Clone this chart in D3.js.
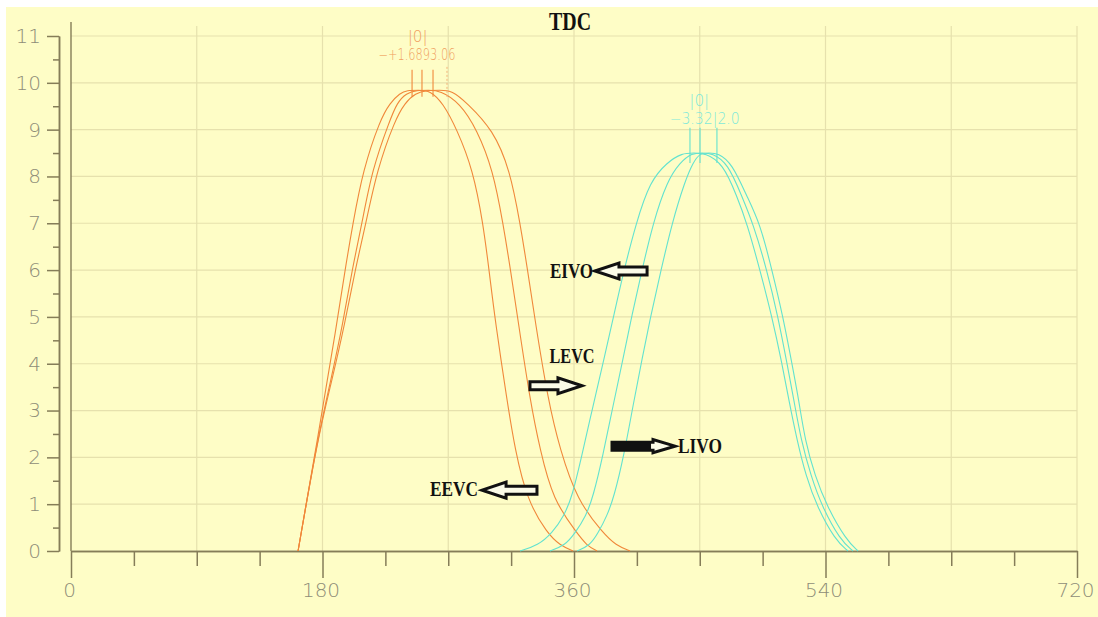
<!DOCTYPE html>
<html>
<head>
<meta charset="utf-8">
<script src="https://cdn.jsdelivr.net/npm/d3@7/dist/d3.min.js"></script>
<style>
  html, body { margin: 0; padding: 0; background: #ffffff; }
  svg { display: block; }
</style>
</head>
<body>
<svg id="chart" width="1098" height="617"></svg>
<script>
// Valve lift (mm) against crank angle (deg): exhaust and intake events
const crankTicks = [0, 180, 360, 540, 720];
const crankMinorTicks = [45, 90, 135, 225, 270, 315, 405, 450, 495, 585, 630, 675];
const crankGrid = [90, 180, 270, 360, 450, 540, 630, 720];
const liftTicks = [0, 1, 2, 3, 4, 5, 6, 7, 8, 9, 10, 11];
const liftMinorTicks = [0.5, 1.5, 2.5, 3.5, 4.5, 5.5, 6.5, 7.5, 8.5, 9.5, 10.5];

// exhaust lift: early close, nominal, late close  [crank deg, lift]
const exhaustEarly = [[162.5,0],[176.5,2.4],[190.4,4.87],[196.1,6.0],[201.8,7.0],[209.0,8.14],[221.2,9.21],[228.3,9.57],[235.5,9.78],[240.5,9.84],[248.7,9.84],[256.9,9.84],[266.2,9.57],[276.3,9.0],[287.7,8.14],[294.9,7.0],[299.2,6.0],[303.8,4.87],[312.0,3.23],[317.8,2.16],[326.4,1.09],[340.7,0.38],[350.0,0.12],[359.3,0]];
const exhaustMid = [[162.5,0],[176.5,2.4],[186.0,3.65],[194.7,4.87],[201.1,6.0],[208.3,7.0],[215.4,8.14],[228.3,9.21],[233.3,9.57],[240.0,9.78],[247.6,9.84],[255.9,9.84],[264.1,9.84],[278.4,9.57],[290.6,9.0],[302.0,8.14],[309.2,7.0],[314.6,6.0],[320.2,4.87],[328.5,3.23],[335.7,2.16],[345.0,1.09],[362.2,0.38],[369.0,0.12],[376.5,0]];
const exhaustLate = [[162.5,0],[176.5,2.4],[186.8,3.65],[196.1,4.87],[203.3,6.0],[211.1,7.0],[219.0,8.14],[231.9,9.21],[239.0,9.57],[246.5,9.78],[254.8,9.84],[263.8,9.84],[272.7,9.84],[283.4,9.57],[302.0,9.0],[314.2,8.14],[321.4,7.0],[326.8,6.0],[332.4,4.87],[341.4,3.23],[350.0,2.16],[362.2,1.09],[380.8,0.38],[390.0,0.12],[400.1,0]];

// intake lift: early open, nominal, late open
const intakeEarly = [[321.4,0],[334.2,0.12],[344.3,0.38],[352.8,0.75],[358.6,1.15],[365.7,2.05],[373.6,3.1],[381.5,4.1],[388.6,5.05],[395.8,6.0],[404.4,7.0],[414.4,7.9],[426.6,8.3],[437.3,8.5],[445.9,8.5],[453.8,8.5],[466.6,8.28],[476.7,7.57],[483.8,7.0],[493.1,6.0],[501.7,5.0],[508.9,4.0],[513.9,3.2],[519.6,2.37],[526.0,1.6],[533.9,0.95],[546.8,0.24],[556.1,0]];
const intakeMid = [[342.8,0],[353.6,0.12],[360.7,0.38],[368.6,0.75],[373.6,1.15],[380.8,2.05],[387.9,3.1],[395.1,4.1],[401.5,5.05],[408.7,6.0],[416.5,7.0],[426.6,7.9],[435.9,8.3],[444.5,8.5],[451.6,8.5],[458.8,8.5],[470.2,8.28],[480.2,7.57],[488.1,7.0],[498.1,6.0],[506.0,5.0],[512.5,4.0],[517.5,3.2],[522.5,2.37],[529.6,1.6],[537.5,0.95],[550.4,0.24],[559.7,0]];
const intakeLate = [[362.2,0],[371.5,0.12],[377.2,0.38],[383.6,0.75],[388.6,1.15],[395.8,2.05],[402.2,3.1],[408.7,4.1],[415.1,5.05],[422.3,6.0],[430.1,7.0],[439.4,7.9],[445.2,8.3],[450.2,8.5],[456.6,8.5],[463.1,8.5],[473.1,8.28],[483.8,7.57],[493.1,7.0],[501.7,6.0],[509.6,5.0],[516.0,4.0],[521.0,3.2],[525.3,2.37],[532.5,1.6],[541.1,0.95],[554.7,0.24],[563.3,0]];

// peak position marks (crank deg) and their lift span
const exhaustPeakMarks = [244.1, 251.2, 259.1];
const exhaustGhostMark = 269.1;
const exhaustMarkSpan = [9.7, 10.28];
const intakePeakMarks = [443.0, 450.2, 462.3];
const intakeMarkSpan = [8.29, 9.04];

// small readouts above each peak
const peakReadouts = [
  { text: "|0|", crank: 241.0, lift: 10.98, group: "exhaust", len: 20 },
  { text: "−+1.6893.06", crank: 220.0, lift: 10.6, group: "exhaust", len: 77 },
  { text: "|0|", crank: 442.5, lift: 9.62, group: "intake", len: 20 },
  { text: "−3.32|2.0", crank: 428.5, lift: 9.24, group: "intake", len: 70 }
];

// event annotations
const eventArrows = [
  { name: "EIVO", tip: 375.0, tail: 412.3, lift: 5.98, solid: false },
  { name: "LEVC", tip: 365.7, tail: 328.5, lift: 3.53, solid: false },
  { name: "LIVO", tip: 432.3, tail: 387.2, lift: 2.24, solid: true },
  { name: "EEVC", tip: 294.2, tail: 333.5, lift: 1.30, solid: false }
];
const eventLabels = [
  { text: "EIVO", crank: 373.6, lift: 5.98, anchor: "end", len: 43 },
  { text: "LEVC", crank: 358.6, lift: 4.17, anchor: "middle", len: 45 },
  { text: "LIVO", crank: 434.4, lift: 2.24, anchor: "start", len: 44 },
  { text: "EEVC", crank: 291.3, lift: 1.32, anchor: "end", len: 48 }
];
const titleText = "TDC";
const titleCrank = 360;

const svg = d3.select("#chart");
const W = 1098, H = 617;

const x = d3.scaleLinear().domain([0, 720]).range([71, 1077]);
const y = d3.scaleLinear().domain([0, 11]).range([551, 36]);

const paper = "#fefdc6";
const gridColor = "#e6e1ad";
const axisColor = "#857d58";
const labelColor = "#8e8d78";
const exhaustColor = "#f0883a";
const intakeColor = "#62e2cf";

svg.append("rect").attr("width", W).attr("height", H).attr("fill", "#ffffff");
svg.append("rect").attr("x", 6).attr("y", 7).attr("width", W - 6).attr("height", H - 7).attr("fill", paper);

// grid
const grid = svg.append("g");
grid.selectAll("line.h").data(liftTicks.filter(d => d > 0)).join("line")
  .attr("x1", x(0)).attr("x2", x(720))
  .attr("y1", d => y(d)).attr("y2", d => y(d))
  .attr("stroke", gridColor).attr("stroke-width", 1.2);
grid.selectAll("line.v").data(crankGrid).join("line")
  .attr("x1", d => x(d)).attr("x2", d => x(d))
  .attr("y1", y(0)).attr("y2", y(11) - 10)
  .attr("stroke", gridColor).attr("stroke-width", 1.2);

// left frame edge of the plot
svg.append("line")
  .attr("x1", x(0)).attr("x2", x(0))
  .attr("y1", y(11) - 14).attr("y2", y(0))
  .attr("stroke", axisColor).attr("stroke-width", 1.4);

function styleAxis(g) {
  g.selectAll("path.domain").attr("stroke", axisColor).attr("stroke-width", 1.5);
  g.selectAll(".tick line").attr("stroke", axisColor).attr("stroke-width", 1.5);
  g.selectAll(".tick text")
    .attr("fill", labelColor)
    .style("font-family", "'DejaVu Sans', sans-serif")
    .style("font-weight", "200")
    .style("font-size", "20px");
}

// y axis, offset to the left of the frame
const yAxisX = 59;
const yMinor = svg.append("g").attr("transform", `translate(${yAxisX},0)`)
  .call(d3.axisLeft(y).tickValues(liftMinorTicks).tickSize(6).tickSizeOuter(0).tickFormat(""));
styleAxis(yMinor);
const yAxis = svg.append("g").attr("transform", `translate(${yAxisX},0)`)
  .call(d3.axisLeft(y).tickValues(liftTicks).tickSize(12).tickSizeOuter(0).tickPadding(6).tickFormat(d3.format("d")));
styleAxis(yAxis);

// x axis
const xMinor = svg.append("g").attr("transform", `translate(0,${y(0)})`)
  .call(d3.axisBottom(x).tickValues(crankMinorTicks).tickSize(15).tickSizeOuter(0).tickFormat(""));
styleAxis(xMinor);
const xAxis = svg.append("g").attr("transform", `translate(0,${y(0)})`)
  .call(d3.axisBottom(x).tickValues(crankTicks).tickSize(27).tickSizeOuter(0).tickPadding(5).tickFormat(d3.format("d")));
styleAxis(xAxis);
xAxis.selectAll(".tick text").attr("dx", -2);

// lift curves
const line = d3.line().x(d => x(d[0])).y(d => y(d[1])).curve(d3.curveBasis);
const curves = svg.append("g").attr("fill", "none");
[exhaustEarly, exhaustMid, exhaustLate].forEach(s => {
  curves.append("path").attr("d", line(s)).attr("stroke", exhaustColor).attr("stroke-width", 1.1);
});
[intakeEarly, intakeMid, intakeLate].forEach(s => {
  curves.append("path").attr("d", line(s)).attr("stroke", intakeColor).attr("stroke-width", 1.1);
});

// peak marks
const marks = svg.append("g");
marks.selectAll("line.ex").data(exhaustPeakMarks).join("line")
  .attr("x1", d => x(d)).attr("x2", d => x(d))
  .attr("y1", y(exhaustMarkSpan[0])).attr("y2", y(exhaustMarkSpan[1]))
  .attr("stroke", exhaustColor).attr("stroke-width", 1.1);
marks.append("line")
  .attr("x1", x(exhaustGhostMark)).attr("x2", x(exhaustGhostMark))
  .attr("y1", y(exhaustMarkSpan[0])).attr("y2", y(exhaustMarkSpan[1]) - 3)
  .attr("stroke", "#f3b37a").attr("stroke-width", 1).attr("stroke-dasharray", "2,2");
marks.selectAll("line.in").data(intakePeakMarks).join("line")
  .attr("x1", d => x(d)).attr("x2", d => x(d))
  .attr("y1", y(intakeMarkSpan[0])).attr("y2", y(intakeMarkSpan[1]))
  .attr("stroke", intakeColor).attr("stroke-width", 1.1);

// readouts
svg.append("g").selectAll("text").data(peakReadouts).join("text")
  .attr("x", d => x(d.crank)).attr("y", d => y(d.lift))
  .attr("dy", "0.35em")
  .attr("textLength", d => d.len).attr("lengthAdjust", "spacingAndGlyphs")
  .attr("fill", d => d.group === "exhaust" ? "#f0a060" : "#7ee9da")
  .style("font-family", "'DejaVu Sans', sans-serif")
  .style("font-weight", "200")
  .style("font-size", "15px")
  .text(d => d.text);

// title at top dead centre
svg.append("text")
  .attr("x", x(titleCrank) - 4).attr("y", 30)
  .attr("text-anchor", "middle")
  .attr("textLength", 42).attr("lengthAdjust", "spacingAndGlyphs")
  .attr("fill", "#111")
  .style("font-family", "'Liberation Serif', serif")
  .style("font-weight", "bold")
  .style("font-size", "25px")
  .text(titleText);

// block arrows
function arrowPoints(tipX, tailX, yc, hl, hh, sh) {
  const s = Math.sign(tailX - tipX);
  const b = tipX + s * hl;
  return [[tipX, yc], [b, yc - hh], [b, yc - sh], [tailX, yc - sh], [tailX, yc + sh], [b, yc + sh], [b, yc + hh]];
}
const arrows = svg.append("g");
eventArrows.forEach(a => {
  const tipX = x(a.tip), tailX = x(a.tail), yc = y(a.lift);
  const hl = a.solid ? 22 : 24, hh = a.solid ? 6.5 : 8, sh = 4;
  arrows.append("polygon")
    .attr("points", arrowPoints(tipX, tailX, yc, hl, hh, sh).map(p => p.join(",")).join(" "))
    .attr("fill", "#fbfbe8").attr("stroke", "#111").attr("stroke-width", 3)
    .attr("stroke-linejoin", "miter");
  if (a.solid) {
    const s = Math.sign(tailX - tipX);
    const b = tipX + s * (hl + 2);
    arrows.append("rect")
      .attr("x", Math.min(b, tailX)).attr("y", yc - sh)
      .attr("width", Math.abs(tailX - b)).attr("height", 2 * sh)
      .attr("fill", "#111");
  }
});
svg.append("g").selectAll("text").data(eventLabels).join("text")
  .attr("x", d => x(d.crank)).attr("y", d => y(d.lift))
  .attr("dy", "0.35em")
  .attr("text-anchor", d => d.anchor)
  .attr("textLength", d => d.len).attr("lengthAdjust", "spacingAndGlyphs")
  .attr("fill", "#111")
  .style("font-family", "'Liberation Serif', serif")
  .style("font-weight", "bold")
  .style("font-size", "20px")
  .text(d => d.text);
</script>
</body>
</html>
